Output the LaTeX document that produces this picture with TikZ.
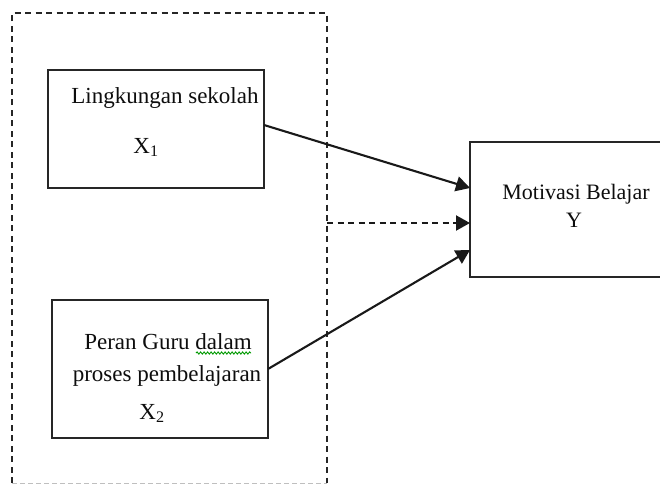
\documentclass[tikz,border=0pt]{standalone}
\usepackage{fontspec}
\setmainfont{Liberation Serif}
\usetikzlibrary{arrows.meta,calc,decorations.pathmorphing}
\begin{document}
\begin{tikzpicture}[x=1pt,y=-1pt,
  box/.style={draw=black!85,line width=2.1pt,inner sep=0pt,outer sep=0pt},
  frameline/.style={draw=black!85,line width=2pt,dash pattern=on 6pt off 4.5pt},
  txt/.style={inner sep=0pt,anchor=base,text=black!95,font=\fontsize{23}{27}\selectfont},
  ytxt/.style={txt,font=\fontsize{22}{26}\selectfont},
  conn/.style={draw=black!90,line width=2.1pt,-{Triangle[length=14pt,width=15pt]}},
  dconn/.style={conn,dash pattern=on 6pt off 4.5pt}]
\useasboundingbox (0,0) rectangle (660,485);
% outer dashed frame (invisible node used for anchors)
\node[inner sep=0pt,outer sep=0pt,minimum width=315pt,minimum height=470pt] (o) at (169.5,248) {};
\draw[frameline] (o.south west) -- (o.north west) -- (o.north east) -- (o.south east);
\draw[draw=black!25,line width=1pt,dash pattern=on 5pt off 3pt] (o.south west) -- (o.south east);
% boxes
\node[box,minimum width=216pt,minimum height=118pt] (b1) at (156,129) {};
\node[box,minimum width=216pt,minimum height=138pt] (b2) at (160,369) {};
\node[box,minimum width=196pt,minimum height=135pt] (by) at (568,209.5) {};
% texts
\node[txt] (t1) at (165,103) {Lingkungan sekolah};
\node[txt] (t1x) at (146,153) {X\textsubscript{1}};
\node[txt] (t2a) at (168,349) {Peran Guru dalam};
\node[txt] (t2b) at (167,381) {proses pembelajaran};
\node[txt] (t2x) at (152,419) {X\textsubscript{2}};
\node[ytxt] (ty1) at (576,199) {Motivasi Belajar};
\node[ytxt] (ty2) at (574,227) {Y};
% spell-check squiggle under "dalam"
\coordinate (sqa) at (196,353);
\coordinate (sqb) at (251,353);
\draw[green!60!black,line width=0.9pt,decorate,decoration={snake,amplitude=1.1pt,segment length=3.5pt}] (sqa) -- (sqb);
% connectors
\coordinate (e1) at ($(b1.east)+(0,-4)$);
\coordinate (y1) at (by.west |- 0,188);
\coordinate (d0) at (o.east |- 0,223);
\coordinate (y2) at (by.west |- 0,223);
\coordinate (y3) at (by.west |- 0,250);
\draw[conn] (e1) -- (y1);
\draw[dconn] (d0) -- (y2);
\draw[conn] (b2.east) -- (y3);
\end{tikzpicture}
\end{document}
